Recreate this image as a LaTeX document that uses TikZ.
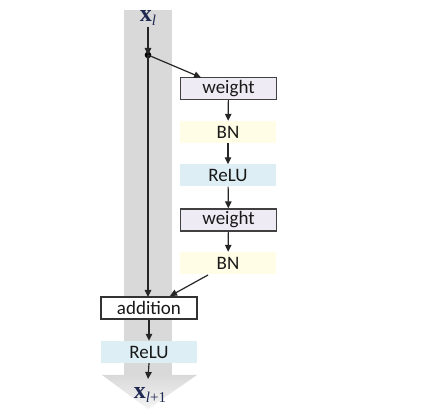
\documentclass[tikz,border=0pt]{standalone}
\usepackage{fontspec}
\setsansfont{Carlito}
\newfontfamily\serifx{Liberation Serif}
\usetikzlibrary{arrows.meta}
\definecolor{bandgray}{HTML}{D9D9D9}
\definecolor{bandlight}{HTML}{F4F4F4}
\definecolor{wfill}{HTML}{EEEBF4}
\definecolor{bnfill}{HTML}{FFFDE6}
\definecolor{relufill}{HTML}{DDEEF4}
\definecolor{xblue}{HTML}{1F2850}
\begin{document}
\begin{tikzpicture}[x=1pt,y=-1pt,
  blk/.style={minimum width=96pt,minimum height=22pt,inner sep=0pt,font=\sffamily\fontsize{19}{19}\selectfont,text=black!90},
  wbox/.style={blk,draw=black!75,line width=1.3pt,fill=wfill},
  bnbox/.style={blk,fill=bnfill},
  relubox/.style={blk,fill=relufill},
  addbox/.style={blk,draw=black!80,line width=1.3pt,fill=white},
  conn/.style={line width=1.2pt,draw=black!85,-{Triangle[length=7pt,width=6.5pt]}},
  lbl/.style={text=xblue,inner sep=0pt}]
\useasboundingbox (0,0) rectangle (445,414);
% band
\fill[bandgray] (124,10) rectangle (172,375);
\shade[top color=bandgray,bottom color=bandlight] (102,375) -- (197,375) -- (148,409) -- cycle;
% labels
\node[lbl] (xl) at (148,18) {\serifx\fontsize{24}{24}\selectfont\textbf{x}\raisebox{-0.3ex}{\fontsize{15}{15}\selectfont\itshape l}};
\node[lbl] (xl1) at (150,395) {\serifx\fontsize{24}{24}\selectfont\textbf{x}\raisebox{-0.3ex}{\fontsize{15}{15}\selectfont\itshape l\upshape+1}};
% blocks
\node[wbox] (w1) at (228.5,88.5) {weight};
\node[bnbox] (bn1) at (228,132) {BN};
\node[relubox] (r1) at (228,175.5) {ReLU};
\node[wbox] (w2) at (228.5,220) {weight};
\node[bnbox] (bn2) at (228,263) {BN};
\node[addbox] (add) at (149,308) {addition};
\node[relubox] (r2) at (149,352) {ReLU};
% dot and connectors
\coordinate (xtop) at (148,27);
\coordinate (dot) at (148,55);
\coordinate (wtop) at (201,77.5);
\coordinate (addtop) at (148,297);
\coordinate (xend) at (148,379);
\coordinate (bnout) at (208,275);
\coordinate (addin) at (170,296);
\fill[black] (dot) circle (3.3pt);
\draw[conn] (xtop) -- (dot);
\draw[conn] (dot) -- (wtop);
\draw[conn] (dot) -- (addtop);
\draw[conn] (w1) -- (bn1);
\draw[conn] (bn1) -- (r1);
\draw[conn] (r1) -- (w2);
\draw[conn] (w2) -- (bn2);
\draw[conn] (bnout) -- (addin);
\draw[conn] (add) -- (r2);
\draw[conn] (r2.south) -- (xend);
\end{tikzpicture}
\end{document}
